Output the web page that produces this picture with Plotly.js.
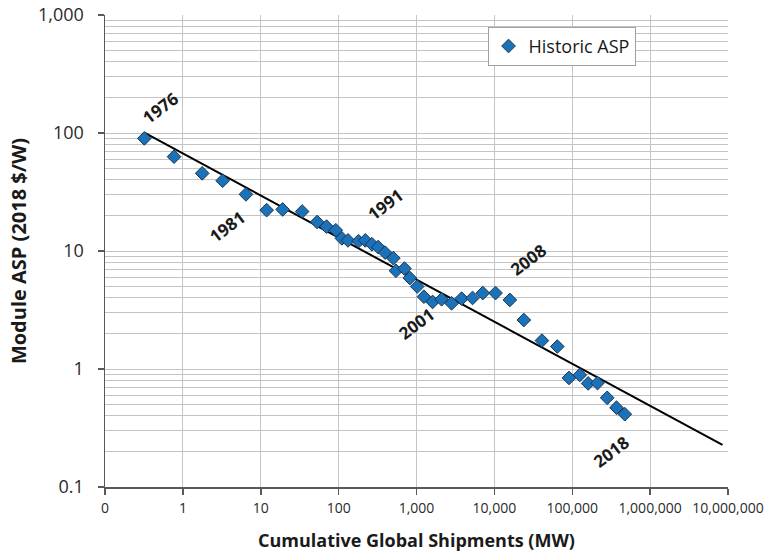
<!DOCTYPE html>
<html>
<head>
<meta charset="utf-8">
<script src="https://cdn.plot.ly/plotly-3.0.1.min.js"></script>
<style>html,body{margin:0;padding:0;background:#fff;}#chart{width:767px;height:554px;}</style>
</head>
<body>
<div id="chart"></div>
<script>
// Historic ASP data (cumulative shipments MW, module ASP 2018 $/W)
const shipmentsMW = [0.32, 0.77, 1.77, 3.24, 6.46, 11.9, 19.1, 34, 53, 70, 92, 110, 132, 180, 220, 268, 322, 395, 505, 545, 700, 823, 1021, 1245, 1610, 2100, 2820, 3800, 5250, 7100, 10350, 15800, 23900, 40800, 64300, 90800, 125000, 160000, 211000, 281000, 370000, 473000];
const aspUSDperW = [90, 63, 45.5, 39.4, 30.2, 22.2, 22.5, 21.6, 17.6, 16.1, 15.0, 12.8, 12.3, 12.1, 12.3, 11.4, 10.8, 9.7, 8.7, 6.8, 7.1, 5.9, 5.0, 4.1, 3.7, 3.9, 3.6, 3.95, 4.0, 4.4, 4.4, 3.85, 2.6, 1.74, 1.55, 0.84, 0.89, 0.755, 0.76, 0.57, 0.47, 0.414];

// Learning-curve trend line endpoints
const trendX = [0.32, 8.5e6];
const trendY = [100.7, 0.227];

// Year labels
const yearLabels = ["1976", "1981", "1991", "2001", "2008", "2018"];
const yearLabelX = [0.52, 3.74, 396, 1000, 27500, 319000];
const yearLabelY = [163, 16.0, 24.7, 2.43, 8.4, 0.198];

// Tick labels
const xTickVals = [0.1, 1, 10, 100, 1000, 10000, 100000, 1000000, 10000000];
const xTickText = ["0", "1", "10", "100", "1,000", "10,000", "100,000", "1,000,000", "10,000,000"];
const yTickVals = [0.1, 1, 10, 100, 1000];
const yTickText = ["0.1", "1", "10", "100", "1,000"];

const yMinor = [];
for (let d = -1; d < 3; d++) for (let k = 2; k <= 9; k++) yMinor.push(k * Math.pow(10, d));

const gridC = '#c4c4c4';
const axisC = '#595959';
const font = "'Open Sans', sans-serif";

const traces = [
  {
    x: trendX, y: trendY, type: 'scatter', mode: 'lines',
    line: {color: '#000', width: 2}, showlegend: false, hoverinfo: 'skip'
  },
  {
    x: shipmentsMW, y: aspUSDperW, type: 'scatter', mode: 'markers', name: 'Historic ASP',
    marker: {symbol: 'diamond', size: 10.5, color: '#1c72b8', line: {color: '#1b3552', width: 1}}
  }
];

const annotations = yearLabels.map((t, i) => ({
  x: Math.log10(yearLabelX[i]), y: Math.log10(yearLabelY[i]), xref: 'x', yref: 'y',
  text: '<b>' + t + '</b>', showarrow: false, textangle: -37,
  font: {family: font, size: 17, color: '#1a1a1a'}
}));

const layout = {
  width: 767, height: 554,
  margin: {l: 105, r: 39, t: 15, b: 67},
  paper_bgcolor: '#fff', plot_bgcolor: '#fff',
  showlegend: true,
  legend: {
    x: 0.614, y: 0.975, xanchor: 'left', yanchor: 'top',
    bordercolor: '#a0a0a0', borderwidth: 1, bgcolor: '#fff',
    font: {family: font, size: 18, color: '#1a1a1a'},
    itemwidth: 30
  },
  xaxis: {
    type: 'log', range: [-1, 7],
    tickmode: 'array', tickvals: xTickVals, ticktext: xTickText,
    ticks: 'outside', ticklen: 6, tickcolor: axisC, tickwidth: 1.5,
    showline: true, linecolor: axisC, linewidth: 1.5,
    showgrid: true, gridcolor: gridC, gridwidth: 1,
    zeroline: false, ticklabelstandoff: 2,
    tickfont: {family: font, size: 14, color: '#2a2a2a'},
    title: {text: '<b>Cumulative Global Shipments (MW)</b>', font: {family: font, size: 18, color: '#1a1a1a'}, standoff: 18}
  },
  yaxis: {
    type: 'log', range: [-1, 3],
    tickmode: 'array', tickvals: yTickVals, ticktext: yTickText,
    ticks: 'outside', ticklen: 6, tickcolor: axisC, tickwidth: 1.5,
    showline: true, linecolor: axisC, linewidth: 1.5,
    showgrid: true, gridcolor: gridC, gridwidth: 1,
    zeroline: false, ticklabelstandoff: 10,
    minor: {tickmode: 'array', tickvals: yMinor, showgrid: true, gridcolor: gridC, gridwidth: 1, ticks: ''},
    tickfont: {family: font, size: 18, color: '#2a2a2a'},
    title: {text: '<b>Module ASP (2018 $/W)</b>', font: {family: font, size: 20, color: '#1a1a1a'}, standoff: 6}
  },
  annotations: annotations
};

Plotly.newPlot('chart', traces, layout, {displayModeBar: false, staticPlot: true});
</script>
</body>
</html>
